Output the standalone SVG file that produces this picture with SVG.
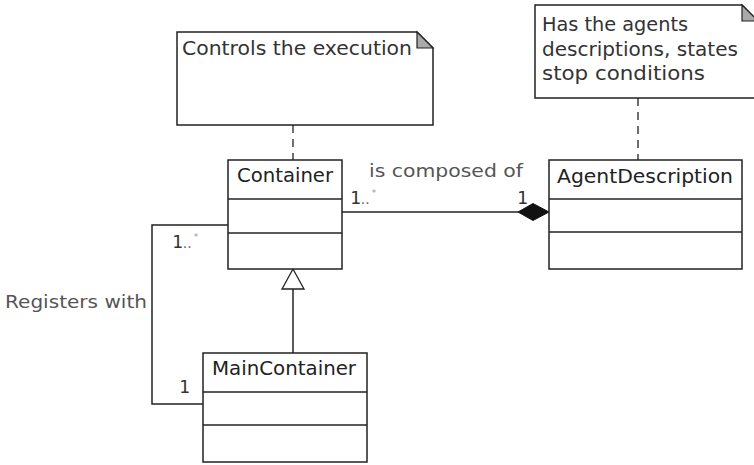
<svg xmlns="http://www.w3.org/2000/svg" width="754" height="465" viewBox="0 0 754 465">
<style>
  .box{fill:#fff;stroke:#222;stroke-width:1.5}
  .div{stroke:#222;stroke-width:1.5}
  .line{fill:none;stroke:#222;stroke-width:1.5}
  .dash{fill:none;stroke:#222;stroke-width:1.3;stroke-dasharray:8,6}
  .fold{fill:#aaa;stroke:#222;stroke-width:1.2}
  .cls{font-family:"DejaVu Sans",sans-serif;font-size:19.5px;fill:#222;text-anchor:middle}
  .note{font-family:"DejaVu Sans",sans-serif;font-size:19px;fill:#333}
  .lbl{font-family:"DejaVu Sans",sans-serif;font-size:18px;fill:#555}
  .mult{font-family:"DejaVu Sans Mono",monospace;font-size:18px;fill:#333}
  .dots{font-family:"DejaVu Sans",sans-serif;font-size:14px;fill:#666}
  .star{font-family:"DejaVu Sans",sans-serif;font-size:9px;fill:#999}
</style>
<rect width="754" height="465" fill="#fff"/>
<g id="connectors">
  <path class="dash" d="M293,125 V160"/>
  <path class="dash" d="M638,98 V160"/>
  <path class="line" d="M342,212 H518"/>
  <polygon points="518,212 533,203.5 549,212 533,220.5" fill="#111" stroke="#111" stroke-width="1"/>
  <path class="line" d="M228,225 H152 V404 H203"/>
  <path class="line" d="M293,289 V353"/>
  <polygon points="293,269 282,289 304,289" fill="#fff" stroke="#222" stroke-width="1.3"/>
  <text class="lbl" x="369" y="177" textLength="154" lengthAdjust="spacingAndGlyphs">is composed of</text>
  <text class="mult" x="350" y="204">1<tspan class="dots">..</tspan><tspan class="star" dx="2" dy="-8">*</tspan></text>
  <text class="mult" x="517" y="204">1</text>
  <text class="lbl" x="5" y="308" textLength="142" lengthAdjust="spacingAndGlyphs">Registers with</text>
  <text class="mult" x="172" y="248">1<tspan class="dots">..</tspan><tspan class="star" dx="2" dy="-8">*</tspan></text>
  <text class="mult" x="179" y="393">1</text>
</g>
<g id="note-controls">
  <path class="box" d="M177,32 H417 L433,48 V125 H177 Z"/>
  <path class="fold" d="M417,32 V48 H433 Z"/>
  <text class="note" x="182" y="55" textLength="230" lengthAdjust="spacingAndGlyphs">Controls the execution</text>
</g>
<g id="note-agents">
  <path class="box" d="M535,5 H742 L758,21 V98 H535 Z"/>
  <path class="fold" d="M742,5 V21 H758 Z"/>
  <text class="note" x="542" y="31" textLength="146" lengthAdjust="spacingAndGlyphs">Has the agents</text>
  <text class="note" x="542" y="56" textLength="196" lengthAdjust="spacingAndGlyphs">descriptions, states</text>
  <text class="note" x="542" y="80" textLength="163" lengthAdjust="spacingAndGlyphs">stop conditions</text>
</g>
<g id="container">
  <rect class="box" x="228" y="160" width="114" height="109"/>
  <line class="div" x1="228" y1="199" x2="342" y2="199"/>
  <line class="div" x1="228" y1="233" x2="342" y2="233"/>
  <text class="cls" x="285" y="182" textLength="96" lengthAdjust="spacingAndGlyphs">Container</text>
</g>
<g id="agentdescription">
  <rect class="box" x="549" y="160" width="193" height="109"/>
  <line class="div" x1="549" y1="199" x2="742" y2="199"/>
  <line class="div" x1="549" y1="232" x2="742" y2="232"/>
  <text class="cls" x="645" y="183" textLength="176" lengthAdjust="spacingAndGlyphs">AgentDescription</text>
</g>
<g id="maincontainer">
  <rect class="box" x="203" y="353" width="164" height="109"/>
  <line class="div" x1="203" y1="392" x2="367" y2="392"/>
  <line class="div" x1="203" y1="425" x2="367" y2="425"/>
  <text class="cls" x="284" y="375" textLength="144" lengthAdjust="spacingAndGlyphs">MainContainer</text>
</g>
</svg>
